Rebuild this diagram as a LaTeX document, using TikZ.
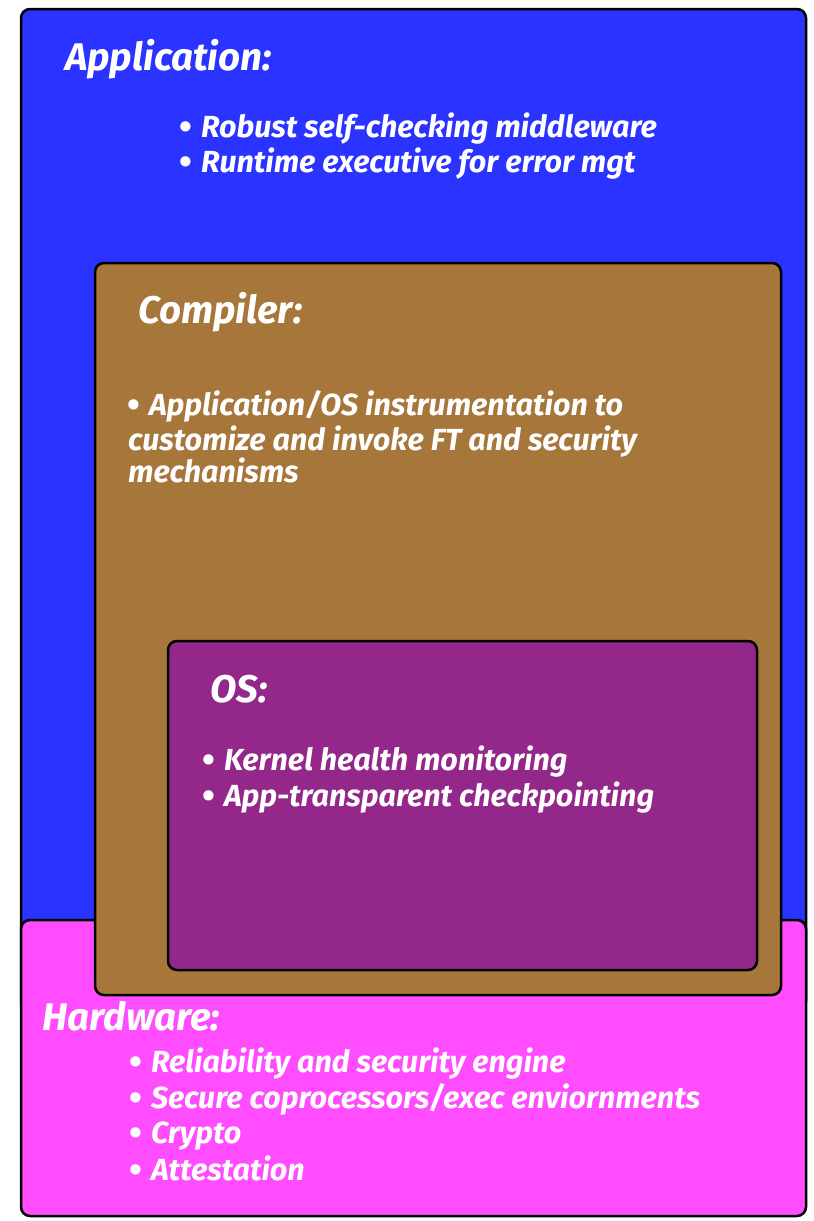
\documentclass[tikz,border=0pt]{standalone}
\usepackage{fontspec}
\setmainfont{Fira Sans}
\definecolor{appblue}{HTML}{2A33FF}
\definecolor{hwpink}{HTML}{FF4CFF}
\definecolor{compbrown}{HTML}{A6763B}
\definecolor{ospurple}{HTML}{93278A}
% a slightly heavier bullet for the item lists, followed by a fixed gap
\newcommand{\itembul}{\raisebox{-2.5pt}{\fontsize{37}{34}\selectfont\upshape •}\hspace{9pt}}
\tikzset{
  layer/.style={draw=black, line width=2.5pt, rounded corners=9pt},
  head/.style={text=white, anchor=base west, inner sep=0pt,
    font=\fontsize{38.5}{44}\selectfont\bfseries\itshape},
  item/.style={text=white, anchor=base west, inner sep=0pt,
    font=\fontsize{30.5}{34}\selectfont\bfseries\itshape},
}
\begin{document}
\begin{tikzpicture}[x=1pt, y=-1pt]
  \useasboundingbox[fill=white] (0,0) rectangle (814,1221);

  % nested layers, drawn from back to front
  \draw[layer, fill=appblue]   (21,9)   rectangle (806,1010);
  \draw[layer, fill=hwpink]    (21,920) rectangle (806,1216);
  \draw[layer, fill=compbrown] (95,263) rectangle (781,995);
  \draw[layer, fill=ospurple]  (168,641) rectangle (757,970);

  % Application layer
  \node[head] (apptitle) at (65,70) {Application:};
  \node[item] (app1) at (179,137) {\itembul Robust self-checking middleware};
  \node[item] (app2) at (179,172) {\itembul Runtime executive for error mgt};

  % Compiler layer
  \node[head] (comptitle) at (138,323) {Compiler:};
  \node[item] (comp1) at (127,415) {\itembul Application/OS instrumentation to};
  \node[item] (comp2) at (128,450) {customize and invoke FT and security};
  \node[item] (comp3) at (128,482) {mechanisms};

  % OS layer
  \node[head] (ostitle) at (210,702) {OS:};
  \node[item] (os1) at (202,770) {\itembul Kernel health monitoring};
  \node[item] (os2) at (202,806) {\itembul App-transparent checkpointing};

  % Hardware layer
  \node[head] (hwtitle) at (42,1030) {Hardware:};
  \node[item] (hw1) at (129,1072) {\itembul Reliability and security engine};
  \node[item] (hw2) at (129,1108) {\itembul Secure coprocessors/exec enviornments};
  \node[item] (hw3) at (129,1143) {\itembul Crypto};
  \node[item] (hw4) at (129,1180) {\itembul Attestation};
\end{tikzpicture}
\end{document}
